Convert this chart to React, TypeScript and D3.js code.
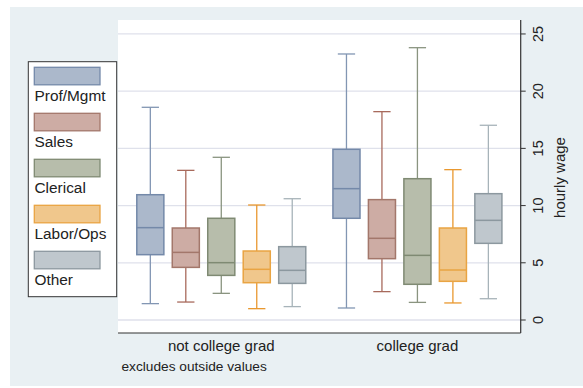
import React from "react";
import * as d3 from "d3";

const groups = ["not college grad", "college grad"];
const categories = ["Prof/Mgmt", "Sales", "Clerical", "Labor/Ops", "Other"];

// five-number summaries (whiskers exclude outside values)
const lowNotGrad = [1.43, 1.57, 2.33, 0.99, 1.17];
const q1NotGrad = [5.71, 4.6, 3.9, 3.26, 3.2];
const medNotGrad = [8.07, 5.91, 5.01, 4.43, 4.34];
const q3NotGrad = [10.95, 8.04, 8.89, 6.03, 6.41];
const highNotGrad = [18.59, 13.08, 14.22, 10.05, 10.6];

const lowGrad = [1.05, 2.48, 1.54, 1.49, 1.86];
const q1Grad = [8.89, 5.36, 3.12, 3.38, 6.7];
const medGrad = [11.48, 7.14, 5.65, 4.37, 8.71];
const q3Grad = [14.92, 10.52, 12.35, 8.04, 11.04];
const highGrad = [23.25, 18.21, 23.8, 13.14, 17.02];

const yTicks = [0, 5, 10, 15, 20, 25];

const fills = ["#abb8cb", "#cdaca4", "#b7bdab", "#f0c78c", "#bfc7cd"];
const strokes = ["#7489a9", "#a3776b", "#7f8a73", "#e9a443", "#8c989f"];
const whiskerColors = ["#8296b3", "#a86a5c", "#8a9480", "#e9982f", "#a7b3b9"];

const FONT = "'Liberation Sans', Arial, Helvetica, sans-serif";

export default function App() {
  const W = 583;
  const H = 388;
  const plot = { left: 118, right: 520.7, top: 20, bottom: 333 };

  const x0 = d3
    .scaleBand<string>()
    .domain(groups)
    .range([plot.left, plot.right])
    .paddingInner(0.1385)
    .paddingOuter(0.0958);
  const x1 = d3
    .scaleBand<string>()
    .domain(categories)
    .range([0, x0.bandwidth()])
    .paddingInner(0.237)
    .paddingOuter(0);
  const y = d3.scaleLinear().domain([-1.136, 26.22]).range([plot.bottom, plot.top]);

  const series = [
    { g: groups[0], lo: lowNotGrad, q1: q1NotGrad, med: medNotGrad, q3: q3NotGrad, hi: highNotGrad },
    { g: groups[1], lo: lowGrad, q1: q1Grad, med: medGrad, q3: q3Grad, hi: highGrad },
  ];

  const bw = x1.bandwidth();
  const capW = 17.3;

  const legendX = 28.3;
  const legendY = 61.7;
  const legendStep = 46;

  return (
    <svg
      width={W}
      height={H}
      style={{ position: "absolute", left: 0, top: 0, fontFamily: FONT }}
    >
      <rect x={0} y={0} width={W} height={H} fill="#ffffff" />
      <rect x={10} y={7} width={W - 10} height={379} fill="#e9f0f3" />
      <rect
        x={plot.left}
        y={plot.top}
        width={plot.right - plot.left}
        height={plot.bottom - plot.top}
        fill="#ffffff"
      />
      {yTicks.map((t) => (
        <line
          key={"g" + t}
          x1={plot.left}
          x2={plot.right}
          y1={y(t)}
          y2={y(t)}
          stroke="#dfe1eb"
          strokeWidth={1.3}
        />
      ))}

      {series.map((s) =>
        categories.map((c, i) => {
          const bx = (x0(s.g) as number) + (x1(c) as number);
          const cx = bx + bw / 2;
          const hi = y(s.hi[i]);
          const q3 = y(s.q3[i]);
          const med = y(s.med[i]);
          const q1 = y(s.q1[i]);
          const lo = y(s.lo[i]);
          return (
            <g key={s.g + c}>
              <line x1={cx} x2={cx} y1={hi} y2={q3} stroke={whiskerColors[i]} strokeWidth={1.3} />
              <line x1={cx} x2={cx} y1={q1} y2={lo} stroke={whiskerColors[i]} strokeWidth={1.3} />
              <line x1={cx - capW / 2} x2={cx + capW / 2} y1={hi} y2={hi} stroke={whiskerColors[i]} strokeWidth={1.3} />
              <line x1={cx - capW / 2} x2={cx + capW / 2} y1={lo} y2={lo} stroke={whiskerColors[i]} strokeWidth={1.3} />
              <rect
                x={bx}
                y={q3}
                width={bw}
                height={q1 - q3}
                fill={fills[i]}
                stroke={strokes[i]}
                strokeWidth={1.5}
              />
              <line x1={bx} x2={bx + bw} y1={med} y2={med} stroke={strokes[i]} strokeWidth={1.5} />
            </g>
          );
        })
      )}

      {/* axes */}
      <line x1={plot.left} x2={plot.right} y1={plot.bottom} y2={plot.bottom} stroke="#333" strokeWidth={1.2} />
      <line x1={plot.right} x2={plot.right} y1={plot.top} y2={plot.bottom} stroke="#333" strokeWidth={1.2} />
      {yTicks.map((t) => (
        <g key={"t" + t}>
          <line x1={plot.right} x2={plot.right + 5} y1={y(t)} y2={y(t)} stroke="#333" strokeWidth={1} />
          <text
            transform={`translate(542.5,${y(t)}) rotate(-90)`}
            textAnchor="middle"
            fontSize={14.5}
            fill="#222"
          >
            {t}
          </text>
        </g>
      ))}
      <text
        transform={`translate(565,${(plot.top + plot.bottom) / 2 + 1}) rotate(-90)`}
        textAnchor="middle"
        fontSize={15}
        fill="#222"
      >
        hourly wage
      </text>

      {groups.map((g) => (
        <text
          key={g}
          x={(x0(g) as number) + x0.bandwidth() / 2}
          y={351}
          textAnchor="middle"
          fontSize={15}
          fill="#222"
        >
          {g}
        </text>
      ))}
      <text x={121.5} y={370.5} fontSize={13.7} fill="#222">
        excludes outside values
      </text>

      {/* legend */}
      <rect
        x={legendX}
        y={legendY}
        width={116.7 - legendX}
        height={296.7 - legendY}
        fill="#ffffff"
        stroke="#333"
        strokeWidth={1}
      />
      {categories.map((c, i) => (
        <g key={"l" + c}>
          <rect
            x={34.3}
            y={67.3 + i * legendStep}
            width={65.7}
            height={17.5}
            fill={fills[i]}
            stroke={strokes[i]}
            strokeWidth={1.3}
          />
          <text x={34.5} y={100.7 + i * legendStep} fontSize={15.4} fill="#222">
            {c}
          </text>
        </g>
      ))}
    </svg>
  );
}
